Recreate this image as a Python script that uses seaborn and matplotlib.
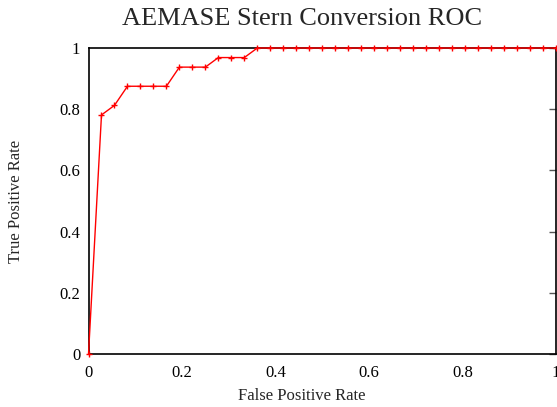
import matplotlib
matplotlib.use("Agg")
import matplotlib.pyplot as plt
import seaborn as sns
import pandas as pd

fpr_steps = list(range(0, 37))
tpr_counts = [0, 25, 26, 28, 28, 28, 28, 30, 30, 30, 31, 31, 31] + [32] * 24
n_neg = 36
n_pos = 32

fpr = [k / n_neg for k in fpr_steps]
tpr = [c / n_pos for c in tpr_counts]
df = pd.DataFrame({"fpr": fpr, "tpr": tpr})

xticks = [0, 0.2, 0.4, 0.6, 0.8, 1]
xticklabels = ["0", "0.2", "0.4", "0.6", "0.8", "1"]
yticks = [0, 0.2, 0.4, 0.6, 0.8, 1]
yticklabels = ["0", "0.2", "0.4", "0.6", "0.8", "1"]

sns.set_style("white")
plt.rcParams["font.family"] = ["Liberation Serif", "DejaVu Serif"]

fig = plt.figure(figsize=(5.57, 4.07), dpi=100)
ax = fig.add_axes([88.5 / 557, 53 / 407, (556 - 88.5) / 557, (354 - 48) / 407])

sns.lineplot(data=df, x="fpr", y="tpr", ax=ax, color="#ff0000", lw=1.0,
             marker="+", markersize=5, markeredgewidth=1.0, markeredgecolor="#ff0000",
             sort=False, clip_on=False, zorder=5)

ax.set_xlim(0, 1)
ax.set_ylim(0, 1)
ax.set_xticks(xticks)
ax.set_xticklabels(xticklabels)
ax.set_yticks(yticks)
ax.set_yticklabels(yticklabels)
ax.tick_params(direction="in", length=5, width=1, color="#555555", labelsize=12,
               top=False, right=True, labelcolor="black", pad=8)
ax.tick_params(axis="y", pad=6)
for s in ax.spines.values():
    s.set_visible(True)
    s.set_color("black")
    s.set_linewidth(1.2)
ax.set_xlabel("")
ax.set_ylabel("")
ax.grid(False)

fig.text(302 / 557, 1 - 19 / 407, "AEMASE Stern Conversion ROC", ha="center", va="center", fontsize=19)
fig.text(302 / 557, 1 - 396 / 407, "False Positive Rate", ha="center", va="center", fontsize=12)
fig.text(16 / 557, 1 - 201 / 407, "True Positive Rate", ha="center", va="center", fontsize=12, rotation=90)

fig.savefig("out.png", dpi=100)
